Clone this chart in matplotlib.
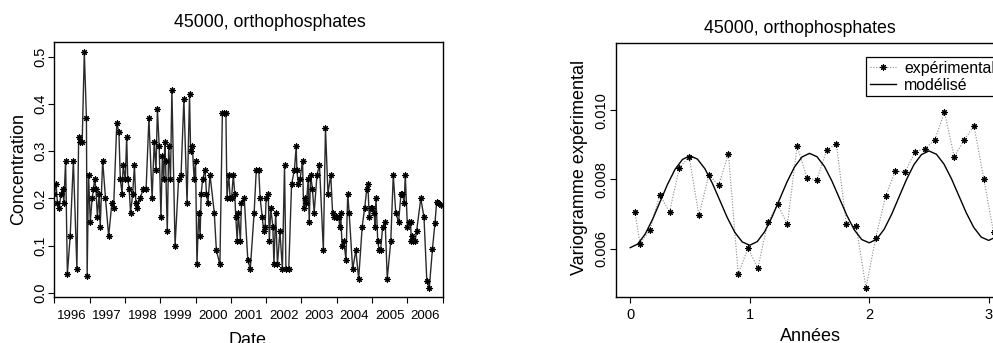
import matplotlib
matplotlib.use("agg")
import matplotlib.pyplot as plt
from matplotlib.lines import Line2D

plt.rcParams['font.family'] = ['Liberation Sans', 'DejaVu Sans']

# --- left panel: concentration time series ---
dates = [1996.00, 1996.05, 1996.09, 1996.14, 1996.19, 1996.24, 1996.27, 1996.32, 1996.37, 1996.45,
         1996.54, 1996.64, 1996.69, 1996.74, 1996.79, 1996.85, 1996.91, 1996.93, 1996.97, 1997.02,
         1997.07, 1997.11, 1997.14, 1997.18, 1997.22, 1997.27, 1997.30, 1997.37, 1997.45, 1997.54,
         1997.63, 1997.68, 1997.77, 1997.83, 1997.87, 1997.92, 1997.95, 1998.01, 1998.05, 1998.08,
         1998.12, 1998.16, 1998.22, 1998.27, 1998.31, 1998.35, 1998.43, 1998.52, 1998.60, 1998.68,
         1998.77, 1998.83, 1998.88, 1998.92, 1998.97, 1999.02, 1999.06, 1999.10, 1999.13, 1999.15,
         1999.20, 1999.24, 1999.29, 1999.33, 1999.42, 1999.52, 1999.59, 1999.67, 1999.76, 1999.83,
         1999.86, 1999.91, 1999.96, 2000.00, 2000.04, 2000.09, 2000.13, 2000.16, 2000.20, 2000.27,
         2000.31, 2000.35, 2000.41, 2000.53, 2000.59, 2000.69, 2000.76, 2000.81, 2000.86, 2000.89,
         2000.94, 2000.98, 2001.02, 2001.07, 2001.11, 2001.14, 2001.18, 2001.21, 2001.27, 2001.30,
         2001.38, 2001.48, 2001.55, 2001.66, 2001.72, 2001.79, 2001.83, 2001.89, 2001.93, 2001.97,
         2002.00, 2002.06, 2002.09, 2002.13, 2002.19, 2002.22, 2002.27, 2002.32, 2002.39, 2002.46,
         2002.52, 2002.56, 2002.64, 2002.72, 2002.80, 2002.85, 2002.87, 2002.91, 2002.96, 2003.03,
         2003.06, 2003.10, 2003.14, 2003.19, 2003.22, 2003.26, 2003.31, 2003.36, 2003.44, 2003.51,
         2003.62, 2003.68, 2003.75, 2003.83, 2003.88, 2003.92, 2003.97, 2004.02, 2004.06, 2004.08,
         2004.11, 2004.15, 2004.20, 2004.26, 2004.31, 2004.35, 2004.45, 2004.54, 2004.62, 2004.72,
         2004.79, 2004.85, 2004.88, 2004.92, 2004.97, 2005.01, 2005.06, 2005.08, 2005.11, 2005.16,
         2005.20, 2005.24, 2005.30, 2005.37, 2005.43, 2005.53, 2005.60, 2005.67, 2005.75, 2005.82,
         2005.86, 2005.91, 2005.94, 2006.00, 2006.05, 2006.09, 2006.11, 2006.14, 2006.17, 2006.22,
         2006.26, 2006.38, 2006.47, 2006.55, 2006.62, 2006.71, 2006.78, 2006.83, 2006.88, 2006.94]

conc = [0.21, 0.23, 0.19, 0.18, 0.21, 0.22, 0.19, 0.28, 0.04, 0.12,
        0.28, 0.05, 0.33, 0.32, 0.32, 0.51, 0.37, 0.035, 0.25, 0.15,
        0.20, 0.22, 0.24, 0.22, 0.16, 0.21, 0.14, 0.28, 0.20, 0.12,
        0.19, 0.18, 0.36, 0.34, 0.24, 0.21, 0.27, 0.24, 0.33, 0.24,
        0.22, 0.17, 0.21, 0.27, 0.19, 0.18, 0.20, 0.22, 0.22, 0.37,
        0.20, 0.32, 0.26, 0.39, 0.31, 0.16, 0.29, 0.24, 0.32, 0.28,
        0.13, 0.31, 0.24, 0.43, 0.10, 0.24, 0.25, 0.41, 0.19, 0.42,
        0.30, 0.31, 0.24, 0.28, 0.06, 0.17, 0.12, 0.21, 0.24, 0.26,
        0.21, 0.19, 0.25, 0.17, 0.09, 0.06, 0.38, 0.38, 0.38, 0.20,
        0.25, 0.20, 0.20, 0.25, 0.21, 0.16, 0.11, 0.17, 0.11, 0.19,
        0.20, 0.07, 0.05, 0.17, 0.26, 0.26, 0.20, 0.16, 0.13, 0.14,
        0.20, 0.21, 0.11, 0.18, 0.14, 0.06, 0.17, 0.06, 0.13, 0.05,
        0.27, 0.05, 0.05, 0.23, 0.26, 0.31, 0.26, 0.23, 0.24, 0.28,
        0.18, 0.20, 0.19, 0.24, 0.15, 0.25, 0.22, 0.17, 0.25, 0.27,
        0.09, 0.35, 0.21, 0.25, 0.17, 0.16, 0.16, 0.16, 0.16, 0.14,
        0.17, 0.10, 0.11, 0.07, 0.21, 0.17, 0.05, 0.09, 0.03, 0.14,
        0.18, 0.22, 0.23, 0.16, 0.18, 0.18, 0.17, 0.14, 0.20, 0.11,
        0.09, 0.09, 0.14, 0.15, 0.03, 0.11, 0.25, 0.17, 0.15, 0.21,
        0.21, 0.19, 0.25, 0.14, 0.15, 0.15, 0.11, 0.12, 0.11, 0.11,
        0.13, 0.20, 0.16, 0.026, 0.01, 0.093, 0.147, 0.193, 0.19, 0.186]

years = ['1996', '1997', '1998', '1999', '2000', '2001',
         '2002', '2003', '2004', '2005', '2006']

# --- right panel: variogram ---
lags = [0.039, 0.082, 0.164, 0.247, 0.329, 0.411, 0.493, 0.575, 0.658, 0.740,
        0.822, 0.904, 0.986, 1.068, 1.151, 1.233, 1.315, 1.397, 1.479, 1.562,
        1.644, 1.726, 1.808, 1.890, 1.973, 2.055, 2.137, 2.219, 2.301, 2.384,
        2.466, 2.548, 2.630, 2.712, 2.795, 2.877, 2.959, 3.041]
gamma_exp = [0.00706, 0.00615, 0.00653, 0.00756, 0.00706, 0.00834, 0.00866, 0.00696, 0.00813, 0.00784,
             0.00874, 0.00527, 0.00602, 0.00543, 0.00676, 0.00728, 0.00671, 0.00897, 0.00804, 0.00799,
             0.00885, 0.00903, 0.00672, 0.00667, 0.00487, 0.00632, 0.00751, 0.00824, 0.00822, 0.00880,
             0.00889, 0.00914, 0.00994, 0.00866, 0.00914, 0.00955, 0.00802, 0.00647]

model_lag = [0.0, 0.0625, 0.125, 0.1875, 0.25, 0.3125, 0.375, 0.4375, 0.5, 0.5625,
             0.625, 0.6875, 0.75, 0.8125, 0.875, 0.9375, 1.0, 1.0625, 1.125, 1.1875,
             1.25, 1.3125, 1.375, 1.4375, 1.5, 1.5625, 1.625, 1.6875, 1.75, 1.8125,
             1.875, 1.9375, 2.0, 2.0625, 2.125, 2.1875, 2.25, 2.3125, 2.375, 2.4375,
             2.5, 2.5625, 2.625, 2.6875, 2.75, 2.8125, 2.875, 2.9375, 3.0, 3.0625]
gamma_mod = [0.006030, 0.006134, 0.006422, 0.006852, 0.007358, 0.007863, 0.008293, 0.008581, 0.008685, 0.008590,
             0.008310, 0.007889, 0.007393, 0.006896, 0.006475, 0.006195, 0.006100, 0.006204, 0.006492, 0.006922,
             0.007428, 0.007933, 0.008363, 0.008651, 0.008755, 0.008660, 0.008380, 0.007959, 0.007463, 0.006966,
             0.006545, 0.006265, 0.006170, 0.006274, 0.006562, 0.006992, 0.007498, 0.008003, 0.008433, 0.008721,
             0.008825, 0.008730, 0.008450, 0.008029, 0.007533, 0.007036, 0.006615, 0.006335, 0.006240, 0.006344]

W, H = 993, 343
fig = plt.figure(figsize=(W / 100, H / 100), dpi=100)


def px(x0, y0, x1, y1):
    return [x0 / W, 1 - y1 / H, (x1 - x0) / W, (y1 - y0) / H]


star = (8, 2, 0)

# left
ax1 = fig.add_axes(px(54.3, 42.3, 442.7, 297.3))
ax1.plot(dates, conc, color='#2a2a2a', lw=1.0, marker=star, ms=4.5,
         mec='black', mew=0.8)
ax1.set_xlim(1996, 2007)
ax1.set_ylim(-0.0095, 0.5305)
ax1.set_xticks(range(1996, 2008))
ax1.set_xticklabels([])
ax1.set_xticks([int(y) + 0.5 for y in years], minor=True)
ax1.set_xticklabels(years, minor=True, fontsize=9.5)
ax1.tick_params(axis='x', which='minor', length=0, pad=9)
ax1.set_yticks([0.0, 0.1, 0.2, 0.3, 0.4, 0.5])
ax1.set_yticklabels(['0.0', '0.1', '0.2', '0.3', '0.4', '0.5'], fontsize=10.5,
                    rotation=90, va='center')
ax1.tick_params(axis='both', which='major', direction='out', length=4.3, width=0.8, pad=1)
ax1.tick_params(axis='x', which='major', length=4.3)

# right
ax2 = fig.add_axes(px(615.7, 43.3, 1008, 296.7))
ax2.plot(lags, gamma_exp, color='#888888', lw=0.8, linestyle=(0, (1, 1.5)),
         marker=star, ms=4.5, mec='black', mew=0.8)
ax2.plot(model_lag, gamma_mod, color='black', lw=1.0)
ax2.set_xlim(-0.1216, 3.1616)
ax2.set_ylim(0.004613, 0.011936)
ax2.set_xticks([0, 1, 2, 3])
ax2.set_xticklabels(['0', '1', '2', '3'], fontsize=10.5)
ax2.set_yticks([0.006, 0.008, 0.010])
ax2.set_yticklabels(['0.006', '0.008', '0.010'], fontsize=10.5, rotation=90, va='center')
ax2.tick_params(axis='both', direction='out', length=4.3, width=0.8, pad=1)
ax2.tick_params(axis='x', pad=4)

for ax in (ax1, ax2):
    for s in ax.spines.values():
        s.set_linewidth(1.0)
        s.set_color('black')

handles = [Line2D([], [], color='#888888', lw=0.8, linestyle=(0, (1, 1.5)),
                  marker=star, ms=4.5, mec='black', mew=0.8),
           Line2D([], [], color='black', lw=1.0)]
leg = ax2.legend(handles, ['expérimental', 'modélisé'], loc='upper left',
                 bbox_to_anchor=(866 / W, 1 - 57 / H), bbox_transform=fig.transFigure,
                 borderaxespad=0, fontsize=11.4, handlelength=1.65, handletextpad=0.5,
                 borderpad=0.25, labelspacing=0.1, fancybox=False, framealpha=1,
                 edgecolor='black')
leg.get_frame().set_linewidth(0.9)

# titles and axis labels
fig.text(270 / W, 1 - 27 / H, '45000, orthophosphates', ha='center', va='baseline', fontsize=12.8)
fig.text(800 / W, 1 - 33 / H, '45000, orthophosphates', ha='center', va='baseline', fontsize=12.8)
fig.text(18.5 / W, 1 - 169 / H, 'Concentration', rotation=90, ha='center', va='center', fontsize=13)
fig.text(580 / W, 1 - 167.5 / H, 'Variogramme expérimental', rotation=90,
         ha='center', va='center', fontsize=13)
fig.text(247 / W, 1 - 345 / H, 'Date', ha='center', va='baseline', fontsize=13)
fig.text(810 / W, 1 - 341 / H, 'Années', ha='center', va='baseline', fontsize=13)

fig.savefig('out.png', dpi=100)
